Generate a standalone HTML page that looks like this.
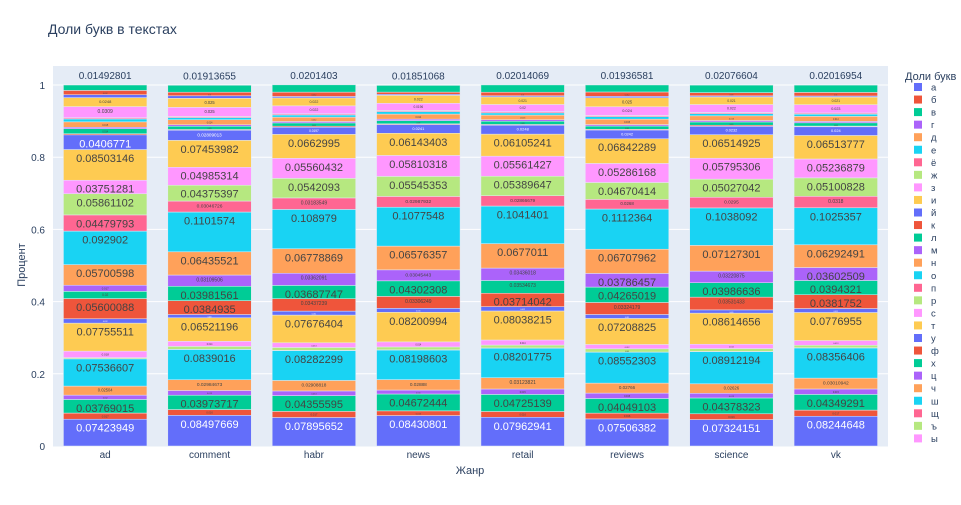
<!DOCTYPE html>
<html><head><meta charset="utf-8">
<style>
body{margin:0;background:#fff;font-family:"Liberation Sans","Noto Sans CJK SC",sans-serif;}
svg text{font-family:"Liberation Sans","Noto Sans CJK SC",sans-serif;}
</style></head>
<body>
<svg id="chart" width="961" height="500" xmlns="http://www.w3.org/2000/svg">
<text x="48" y="34" font-size="14" fill="#2a3f5f">Доли букв в текстах</text>
<rect x="53" y="66" width="835" height="380" fill="#E5ECF6"/>
<g id="grid"></g><g id="bars"></g><g id="axes"></g><g id="legend"></g>
<text x="470" y="474" font-size="11" fill="#2a3f5f" text-anchor="middle">Жанр</text>
<text transform="translate(25,265) rotate(-90)" font-size="11" fill="#2a3f5f" text-anchor="middle">Процент</text>
<text x="905" y="80" font-size="11" fill="#2a3f5f">Доли букв</text>
</svg>
<script>
const genres=["ad","comment","habr","news","retail","reviews","science","vk"];
const letters=["а","б","в","г","д","е","ё","ж","з","и","й","к","л","м","н","о","п","р","с","т","у","ф","х","ц","ч","ш","щ","ъ","ы","ь","э","ю","я"];
const v_a=[.07423949,.08497669,.07895652,.08430801,.07962941,.07506382,.07324151,.08244648];
const v_b=[.017,.016,.017,.013,.016,.016,.016,.017];
const v_v=[.03769015,.03973717,.04355595,.04672444,.04725139,.04049103,.04378323,.04349291];
const v_g=[.012,.013,.013,.011,.015,.015,.013,.015];
const v_d=[.02504,.02984673,.02908818,.02888,.03123821,.02766,.02626,.03010942];
const v_e=[.07536607,.0839016,.08282299,.08198603,.08201775,.08552303,.08912194,.08356406];
const v_yo=[.0005,.0005,.0005,.0005,.0005,.0005,.0005,.0005];
const v_zh=[.003,.008,.008,.008,.008,.009,.008,.007];
const v_z=[.018,.014,.013,.014,.014,.012,.012,.013];
const v_i=[.07755511,.06521196,.07676404,.08200994,.08038215,.07208825,.08614656,.0776955];
const v_j=[.012,.009,.011,.011,.012,.011,.009,.011];
const v_k=[.05600088,.0384935,.03437239,.03306249,.03714042,.03324179,.03531433,.0381752];
const v_l=[.02,.03981561,.03687747,.04302308,.03534673,.04265019,.03986636,.0394321];
const v_m=[.017,.03109506,.03362091,.03045443,.03436018,.03786457,.03220875,.03602509];
const v_n=[.05700598,.06435521,.06778869,.06576357,.0677011,.06707962,.07127301,.06292491];
const v_o=[.092902,.1101574,.108979,.1077548,.1041401,.1112364,.1038092,.1025357];
const v_p=[.04479793,.03046726,.03183549,.02987932,.02866679,.0268,.0295,.0318];
const v_r=[.05861102,.04375397,.0542093,.05545353,.05389647,.04670414,.05027042,.05100828];
const v_s=[.03751281,.04985314,.05560432,.05810318,.05561427,.05286168,.05795306,.05236879];
const v_t=[.08503146,.07453982,.0662995,.06143403,.06105241,.06842289,.06514925,.06513777];
const v_u=[.0406771,.02809013,.0197,.0241,.0248,.0242,.0232,.0240];
const v_f=[.003,.002,.003,.002,.002,.002,.003,.002];
const v_h=[.014,.009,.009,.009,.009,.009,.009,.009];
const v_c=[.004,.004,.004,.004,.004,.004,.004,.004];
const v_ch=[.015,.014,.012,.014,.013,.015,.013,.014];
const v_sh=[.008,.006,.006,.007,.006,.007,.006,.006];
const v_shch=[.003,.003,.003,.003,.003,.003,.003,.003];
const v_hard=[.0004,.0003,.0003,.0003,.0003,.0003,.0003,.0003];
const v_y=[.0309,.025,.022,.0196,.02,.024,.022,.023];
const v_soft=[.0248,.025,.022,.022,.021,.025,.021,.021];
const v_ee=[.008,.007,.004,.003,.003,.004,.003,.003];
const v_yu=[.012,.010,.012,.006,.010,.012,.009,.010];
const v_ya=[.01492801,.01913655,.0201403,.01851068,.02014069,.01936581,.02076604,.02016954];
const series=[v_a,v_b,v_v,v_g,v_d,v_e,v_yo,v_zh,v_z,v_i,v_j,v_k,v_l,v_m,v_n,v_o,v_p,v_r,v_s,v_t,v_u,v_f,v_h,v_c,v_ch,v_sh,v_shch,v_hard,v_y,v_soft,v_ee,v_yu,v_ya];
const yTicks=[0,0.2,0.4,0.6,0.8,1];
const colors=["#636efa","#EF553B","#00cc96","#ab63fa","#FFA15A","#19d3f3","#FF6692","#B6E880","#FF97FF","#FECB52"];
const NS="http://www.w3.org/2000/svg";
const X0=53,X1=888,Y0=446,PY=361;
const y=v=>Y0-v*PY;
const bw=(X1-X0)/genres.length;
const xc=i=>X0+bw*(i+0.5);
function mk(t,a,p){const e=document.createElementNS(NS,t);for(const k in a)e.setAttribute(k,a[k]);p.appendChild(e);return e;}
const grid=document.getElementById('grid'),axes=document.getElementById('axes'),bars=document.getElementById('bars'),leg=document.getElementById('legend');
yTicks.forEach(t=>{
  const l=mk('line',{x1:X0,x2:X1,y1:y(t),y2:y(t),stroke:t===0?'#E5ECF6':'#fff','stroke-width':1},grid);
  
  
  const tx=mk('text',{x:45,y:y(t)+4,'font-size':10,fill:'#2a3f5f','text-anchor':'end'},axes);
  tx.textContent=String(t);
  
  
});
genres.forEach((g,i)=>{
  const tx=mk('text',{x:xc(i),y:458,'font-size':10,fill:'#2a3f5f','text-anchor':'middle'},axes);
  tx.textContent=g;
  
  
  let cum=0;
  series.forEach((s,k)=>{
    const v=s[i];const top=y(cum+v),bot=y(cum);cum+=v;
    const r=mk('rect',{x:xc(i)-bw*0.4,y:top,width:bw*0.8,height:Math.max(bot-top,0),fill:colors[k%10],stroke:'#E5ECF6','stroke-width':0.5},bars);
    
    
    const h=bot-top;
    const label=String(+v.toPrecision(7));
    if(k===series.length-1){
      const t=mk('text',{x:xc(i),y:top-6,'font-size':10,fill:'#2a3f5f','text-anchor':'middle'},bars);
      t.textContent=label;
      
      
    } else if(h>3){
      const fs=h>=13?11:Math.min(5,h*0.45);
      const t=mk('text',{x:xc(i),y:top+fs+1.5,'font-size':fs.toFixed(1),fill:(k%10===0)?'#fff':'#444','text-anchor':'middle'},bars);
      t.textContent=label;
      
      
    }
  });
});
letters.forEach((L,k)=>{
  const yy=87+k*12.55;
  if(yy>445)return;
  const r=mk('rect',{x:914,y:yy-4,width:8,height:8,fill:colors[k%10]},leg);
  
  
  const t=mk('text',{x:931,y:yy+3.5,'font-size':9.5,fill:'#2a3f5f'},leg);
  t.textContent=L;
  
  
});
</script>
</body></html>
